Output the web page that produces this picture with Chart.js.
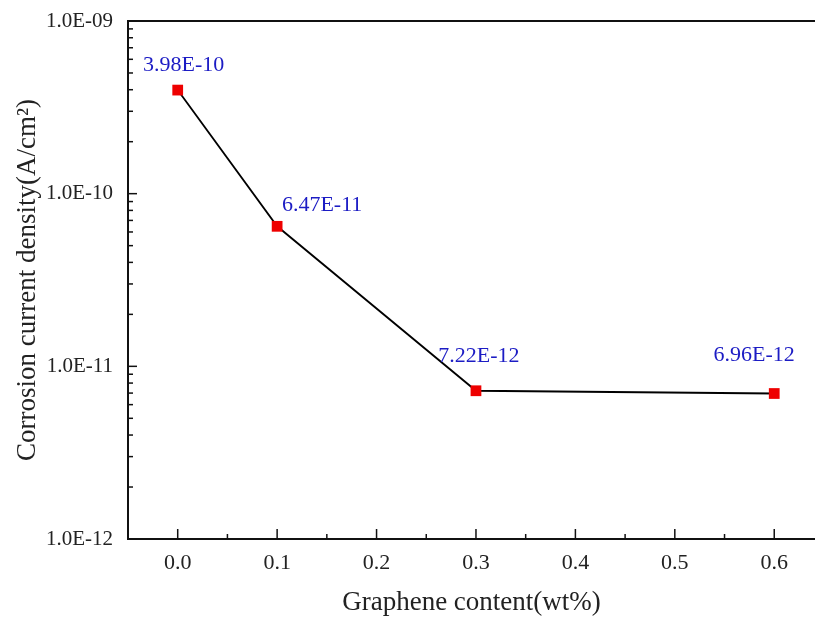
<!DOCTYPE html>
<html>
<head>
<meta charset="utf-8">
<title>Corrosion current density vs graphene content</title>
<script src="https://cdn.jsdelivr.net/npm/chart.js@4.4.1/dist/chart.umd.min.js"></script>
<style>
    html, body { margin: 0; padding: 0; background: #fff; }
    #chartBox { width: 815px; height: 619px; }
</style>
</head>
<body>
<div id="chartBox"><canvas id="corrosionChart" width="815" height="619"></canvas></div>
<script>
// ==========================================
// Data
// ==========================================
const grapheneContent = [0.0, 0.1, 0.3, 0.6];
const currentDensity = [3.98e-10, 6.47e-11, 7.22e-12, 6.96e-12];
const pointLabels = ['3.98E-10', '6.47E-11', '7.22E-12', '6.96E-12'];

const xTickValues = [0.0, 0.1, 0.2, 0.3, 0.4, 0.5, 0.6];
const xTickLabels = ['0.0', '0.1', '0.2', '0.3', '0.4', '0.5', '0.6'];
const yTickValues = [1e-12, 1e-11, 1e-10, 1e-9];
const yTickLabels = ['1.0E-12', '1.0E-11', '1.0E-10', '1.0E-09'];

// label offsets from their point (pixels), as placed in the figure
const labelOffsets = [[6, -25], [45, -21], [3, -35], [-20, -38]];

const SERIF = "'Liberation Serif', 'DejaVu Serif', serif";

// Inward tick marks + top frame line
const insideTicksPlugin = {
    id: 'insideTicks',
    afterDraw(chart) {
        const ctx = chart.ctx;
        const area = chart.chartArea;
        const xs = chart.scales.x;
        const ys = chart.scales.y;
        ctx.save();
        ctx.strokeStyle = '#111';
        ctx.lineWidth = 2;

        // top frame line
        ctx.beginPath();
        ctx.moveTo(area.left, area.top);
        ctx.lineTo(chart.width, area.top);
        ctx.stroke();

        ctx.lineWidth = 1.5;
        // x major + minor ticks
        xTickValues.forEach((v, i) => {
            const px = xs.getPixelForValue(v);
            ctx.beginPath();
            ctx.moveTo(px, area.bottom);
            ctx.lineTo(px, area.bottom - 10);
            ctx.stroke();
            if (i < xTickValues.length - 1) {
                const mx = xs.getPixelForValue(v + 0.05);
                ctx.beginPath();
                ctx.moveTo(mx, area.bottom);
                ctx.lineTo(mx, area.bottom - 5);
                ctx.stroke();
            }
        });

        // y major + minor ticks (log decades)
        yTickValues.forEach((v, i) => {
            const py = ys.getPixelForValue(v);
            ctx.beginPath();
            ctx.moveTo(area.left, py);
            ctx.lineTo(area.left + 9, py);
            ctx.stroke();
            if (i < yTickValues.length - 1) {
                for (let m = 2; m <= 9; m++) {
                    const my = ys.getPixelForValue(v * m);
                    ctx.beginPath();
                    ctx.moveTo(area.left, my);
                    ctx.lineTo(area.left + 5, my);
                    ctx.stroke();
                }
            }
        });
        ctx.restore();
    }
};

// Blue value labels next to each point
const valueLabelPlugin = {
    id: 'valueLabels',
    afterDatasetsDraw(chart) {
        const ctx = chart.ctx;
        const meta = chart.getDatasetMeta(0);
        ctx.save();
        ctx.font = `22px ${SERIF}`;
        ctx.fillStyle = '#1c1cc4';
        ctx.textAlign = 'center';
        ctx.textBaseline = 'middle';
        meta.data.forEach((pt, i) => {
            const off = labelOffsets[i];
            ctx.fillText(pointLabels[i], pt.x + off[0], pt.y + off[1]);
        });
        ctx.restore();
    }
};

new Chart(document.getElementById('corrosionChart'), {
    type: 'line',
    data: {
        datasets: [{
            data: grapheneContent.map((x, i) => ({ x: x, y: currentDensity[i] })),
            borderColor: '#000',
            borderWidth: 1.8,
            pointStyle: 'rect',
            pointRadius: 7.6,
            pointBackgroundColor: '#ee0000',
            pointBorderColor: '#ee0000',
            pointBorderWidth: 0,
            tension: 0,
            clip: false
        }]
    },
    options: {
        responsive: false,
        animation: false,
        layout: { autoPadding: false, padding: { top: 21, right: 0, left: 0, bottom: 0 } },
        plugins: {
            legend: { display: false },
            tooltip: { enabled: false }
        },
        scales: {
            x: {
                type: 'linear',
                min: -0.05,
                max: 0.641,
                afterBuildTicks(scale) {
                    scale.ticks = xTickValues.map(v => ({ value: v }));
                },
                afterFit(scale) {
                    scale.height = 80;
                    scale.paddingRight = 0;
                    scale.paddingLeft = 0;
                },
                ticks: {
                    callback: (v, i) => xTickLabels[i],
                    color: '#222',
                    font: { family: SERIF, size: 22 },
                    padding: 11,
                    maxRotation: 0
                },
                grid: { display: true, drawOnChartArea: false, drawTicks: false },
                border: { display: true, color: '#111', width: 2 },
                title: {
                    display: true,
                    text: 'Graphene content(wt%)',
                    color: '#222',
                    font: { family: SERIF, size: 27 },
                    padding: { top: 6, bottom: 0 }
                }
            },
            y: {
                type: 'logarithmic',
                min: 1e-12,
                max: 1e-9,
                afterBuildTicks(scale) {
                    scale.ticks = yTickValues.map(v => ({ value: v, major: true }));
                },
                afterFit(scale) {
                    scale.width = 128;
                    scale.paddingTop = 0;
                    scale.paddingBottom = 0;
                },
                ticks: {
                    callback: (v, i) => yTickLabels[i],
                    color: '#222',
                    font: { family: SERIF, size: 21 },
                    padding: 15
                },
                grid: { display: true, drawOnChartArea: false, drawTicks: false },
                border: { display: true, color: '#111', width: 2 },
                title: {
                    display: true,
                    text: 'Corrosion current density(A/cm²)',
                    color: '#222',
                    font: { family: SERIF, size: 27 },
                    padding: { top: 12, bottom: 4 }
                }
            }
        }
    },
    plugins: [insideTicksPlugin, valueLabelPlugin]
});
</script>
</body>
</html>
